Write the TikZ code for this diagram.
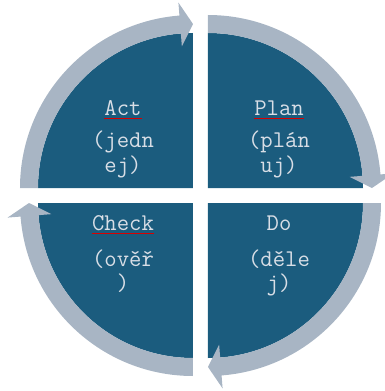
\documentclass[tikz,border=0pt]{standalone}
\usepackage{fontspec}
\usetikzlibrary{positioning}
\definecolor{pdcafill}{HTML}{1B5C7E}
\definecolor{pdcaband}{HTML}{A8B5C4}
\definecolor{pdcatext}{HTML}{D8DEE6}

\begin{document}
\begin{tikzpicture}[x=1pt,y=1pt,
	quad/.style={fill=pdcafill},
	band/.style={fill=pdcaband},
	title/.style={inner sep=0pt,anchor=base,text=pdcatext,font=\ttfamily\fontsize{24}{24}\selectfont},
	sub/.style={title,align=center},
	spell/.style={draw=red!85!black,line width=0.6pt}]
	\useasboundingbox (-200.5,-195.5) rectangle (184.5,195.5);
	% quadrants
	\fill[quad] (-7.5,7.5) -- ++(-155,0) arc[start angle=180,end angle=90,radius=155] -- cycle;
	\fill[quad] (7.5,7.5) -- ++(0,155) arc[start angle=90,end angle=0,radius=155] -- cycle;
	\fill[quad] (7.5,-7.5) -- ++(155,0) arc[start angle=0,end angle=-90,radius=155] -- cycle;
	\fill[quad] (-7.5,-7.5) -- ++(0,-155) arc[start angle=-90,end angle=-180,radius=155] -- cycle;
	% arrows round the cycle
	\begin{scope}[shift={(-7.5,7.5)}]
		\fill[band] (180:155) arc[start angle=180,end angle=94.5,radius=155] -- (94.5:142) -- (90:164)
			-- (94.5:186) -- (94.5:173) arc[start angle=94.5,end angle=180,radius=173] -- cycle;
	\end{scope}
	\begin{scope}[shift={(7.5,7.5)}]
		\fill[band] (90:155) arc[start angle=90,end angle=4.5,radius=155] -- (4.5:142) -- (0:164)
			-- (4.5:186) -- (4.5:173) arc[start angle=4.5,end angle=90,radius=173] -- cycle;
	\end{scope}
	\begin{scope}[shift={(7.5,-7.5)}]
		\fill[band] (0:155) arc[start angle=0,end angle=-85.5,radius=155] -- (-85.5:142) -- (-90:164)
			-- (-85.5:186) -- (-85.5:173) arc[start angle=-85.5,end angle=0,radius=173] -- cycle;
	\end{scope}
	\begin{scope}[shift={(-7.5,-7.5)}]
		\fill[band] (-90:155) arc[start angle=-90,end angle=-175.5,radius=155] -- (-175.5:142) -- (-180:164)
			-- (-175.5:186) -- (-175.5:173) arc[start angle=-175.5,end angle=-90,radius=173] -- cycle;
	\end{scope}
	% texts (base of a two-line node is its last line)
	\node[title] (act) at (-77.5,80.5) {Act};
	\node[sub] (actcz) at (-77.5,23.5) {(jedn\\ej)};
	\node[title] (plan) at (78.5,80.5) {Plan};
	\node[sub] (plancz) at (78.5,23.5) {(plán\\uj)};
	\node[title] (do) at (78.5,-34.5) {Do};
	\node[sub] (docz) at (78.5,-94.5) {(děle\\j)};
	\node[title] (check) at (-77.5,-34.5) {Check};
	\node[sub] (checkcz) at (-77.5,-94.5) {(ověř\\)};
	\draw[spell] ([yshift=-3pt]act.base west) -- ([yshift=-3pt]act.base east);
	\draw[spell] ([yshift=-3pt]plan.base west) -- ([yshift=-3pt]plan.base east);
	\draw[spell] ([yshift=-3pt]check.base west) -- ([yshift=-3pt]check.base east);
\end{tikzpicture}
\end{document}
